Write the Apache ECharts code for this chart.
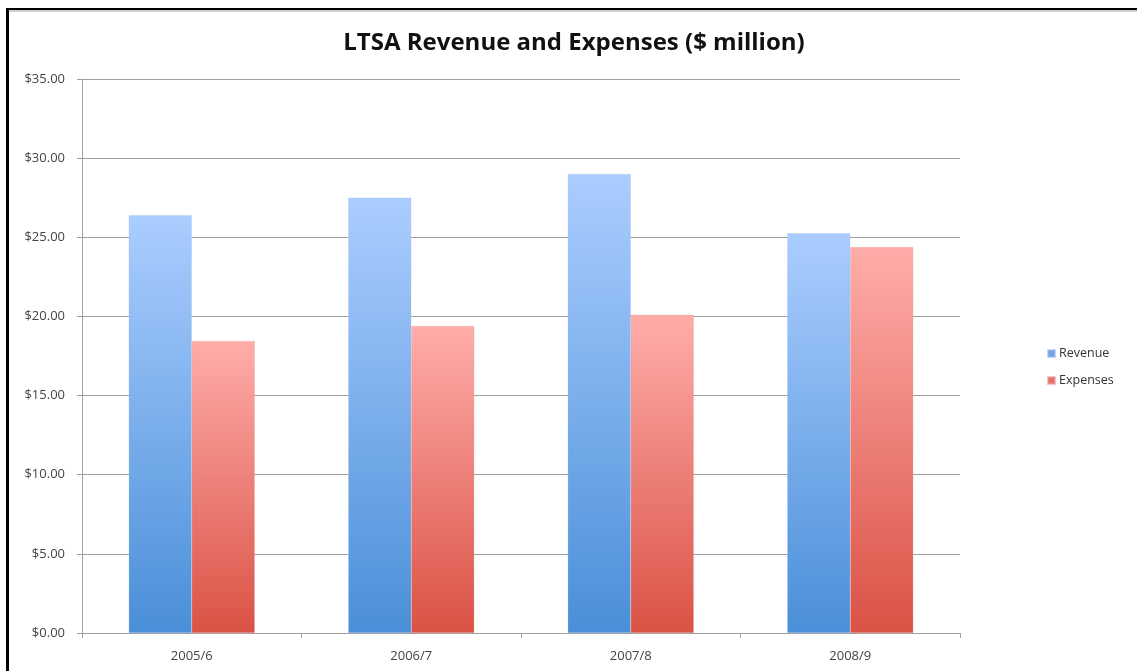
<!DOCTYPE html>
<html>
<head>
<meta charset="utf-8">
<script src="https://cdn.jsdelivr.net/npm/echarts@6/dist/echarts.min.js"></script>
<style>
html,body{margin:0;padding:0;background:#fff;}
#c{width:1137px;height:671px;}
</style>
</head>
<body>
<div id="c"></div>
<script>
const categories = ['2005/6', '2006/7', '2007/8', '2008/9'];
const revenue = [26.4, 27.5, 29.0, 25.25];
const expenses = [18.45, 19.4, 20.1, 24.38];
const yTicks = { min: 0, max: 35, interval: 5 };

const chart = echarts.init(document.getElementById('c'));
function grad(top, bottom) {
  return new echarts.graphic.LinearGradient(0, 0, 0, 1, [
    { offset: 0, color: top },
    { offset: 1, color: bottom }
  ]);
}
const font = '"Open Sans", "Liberation Sans", sans-serif';
chart.setOption({
  animation: false,
  backgroundColor: '#fff',
  title: {
    text: 'LTSA Revenue and Expenses ($ million)',
    left: 574, top: 31, textAlign: 'center', padding: 0,
    textStyle: { fontFamily: font, fontWeight: 'bold', fontSize: 24, color: '#111' }
  },
  legend: {
    orient: 'vertical', left: 1047, top: 347, padding: 0,
    itemWidth: 7, itemHeight: 7, itemGap: 14,
    icon: 'rect',
    textStyle: { fontFamily: font, fontSize: 12.5, color: '#333', padding: [0, 0, 0, -1] },
    data: [
      { name: 'Revenue', itemStyle: { color: '#6fa4e6' } },
      { name: 'Expenses', itemStyle: { color: '#e66f66' } }
    ]
  },
  grid: { left: 82, right: 177, top: 79, bottom: 38 },
  xAxis: {
    type: 'category', data: categories,
    axisLine: { lineStyle: { color: '#a0a0a0', width: 1 } },
    axisTick: { show: true, length: 5, lineStyle: { color: '#a0a0a0' } },
    axisLabel: { fontFamily: font, fontSize: 13, color: '#444', margin: 17 }
  },
  yAxis: {
    type: 'value', min: yTicks.min, max: yTicks.max, interval: yTicks.interval,
    axisLine: { show: true, lineStyle: { color: '#a0a0a0', width: 1 } },
    axisTick: { show: true, length: 5, lineStyle: { color: '#a0a0a0' } },
    splitLine: { lineStyle: { color: '#a0a0a0', width: 1 } },
    axisLabel: { fontFamily: font, fontSize: 13, color: '#444', margin: 17,
      formatter: v => '$' + v.toFixed(2) }
  },
  series: [
    { name: 'Revenue', type: 'bar', data: revenue, barGap: '0%', barCategoryGap: '42.6%',
      itemStyle: { color: grad('#abcdff', '#4a8fd8'), borderColor: 'rgba(160,190,230,0.6)', borderWidth: 0.5 } },
    { name: 'Expenses', type: 'bar', data: expenses,
      itemStyle: { color: grad('#ffadaa', '#da5245'), borderColor: 'rgba(230,160,160,0.6)', borderWidth: 0.5 } }
  ],
  graphic: [
    { type: 'rect', shape: { x: 6, y: 8, width: 3, height: 663 }, style: { fill: '#000' }, silent: true },
    { type: 'rect', shape: { x: 6, y: 8, width: 1131, height: 2 }, style: { fill: '#000' }, silent: true },
    { type: 'rect', shape: { x: 9, y: 10, width: 1128, height: 2 }, style: { fill: '#d0d0d0' }, silent: true }
  ]
});
</script>
</body>
</html>
